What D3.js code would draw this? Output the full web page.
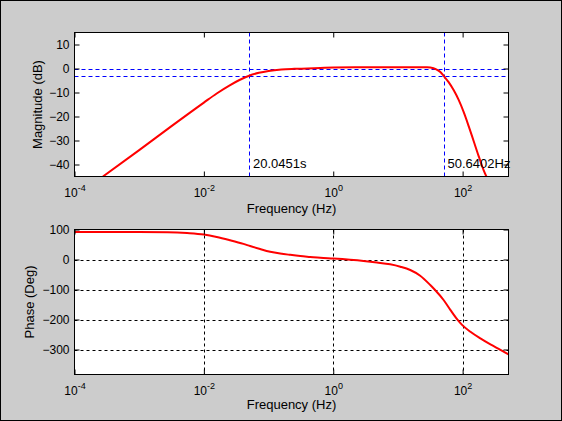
<!DOCTYPE html>
<html>
<head>
<meta charset="utf-8">
<script src="https://cdn.jsdelivr.net/npm/d3@7"></script>
<style>
  body { margin: 0; background: #cccccc; }
  svg { display: block; }
  text { font-family: "Liberation Sans", Arial, Helvetica, sans-serif; }
</style>
</head>
<body>
<script>
// magnitude response (Hz, dB)
const magFreq = [0.000275, 0.001, 0.00316, 0.01, 0.0158, 0.0251, 0.0355, 0.0501, 0.0708, 0.1, 0.158, 0.251, 0.398, 0.631, 1, 3.16, 10, 28.2, 35.5, 41.7, 45.7, 50.64, 60.8, 72.6, 86.9, 104, 124, 148, 177, 211, 253];
const magDb   = [-45, -34, -24, -14.2, -10.4, -7.0, -4.8, -3.0, -1.8, -1.0, -0.4, -0.15, 0, 0.2, 0.4, 0.5, 0.5, 0.5, 0.1, -0.8, -1.6, -3.0, -5.7, -9.0, -13.1, -18.2, -24.0, -30.2, -36.5, -42.3, -47.0];

// phase response (Hz, deg)
const phFreq = [0.0001, 0.001, 0.00275, 0.0055, 0.01, 0.0158, 0.0255, 0.0409, 0.0519, 0.0741, 0.106, 0.151, 0.216, 0.309, 0.44, 0.631, 1, 1.82, 2.94, 4.74, 7.6, 10.9, 15.5, 22.1, 31.6, 36.9, 50.8, 64.6, 82, 98, 132, 188, 269, 384, 512];
const phDeg  = [92, 92, 91, 88, 83, 75, 64, 52, 45, 35, 26, 20, 15.5, 11.5, 8.5, 5.5, 3, -1, -5, -10, -16, -24, -35, -54, -85, -100, -135, -168, -199, -218, -241, -263, -283, -301, -316];

// cutoff markers
const cutoffs = [0.04989, 50.6402];
const cutoffLabels = ["20.0451s", "50.6402Hz"];
const magLevels = [0, -3];

// ticks
const xTicks = [1e-4, 1e-2, 1, 1e2];
const xExp = ["-4", "-2", "0", "2"];
const magTicks = [10, 0, -10, -20, -30, -40];
const phTicks = [100, 0, -100, -200, -300];

const W = 562, H = 421;
const left = 74.5, right = 508.5;
const top1 = 32.5, bot1 = 176.5;
const top2 = 229.5, bot2 = 374.5;

const svg = d3.select("body").append("svg")
  .attr("width", W)
  .attr("height", H);

svg.append("rect")
  .attr("x", 0.5).attr("y", 0.5)
  .attr("width", W - 1).attr("height", H - 1)
  .attr("fill", "#cccccc")
  .attr("stroke", "#000");

const x = d3.scaleLog().domain([1e-4, 512]).range([left, right]);
const yMag = d3.scaleLinear().domain([-45, 15]).range([bot1, top1]);
const yPh = d3.scaleLinear().domain([-383.3, 100]).range([bot2, top2]);

function panel(top, bot, id) {
  const g = svg.append("g");
  g.append("rect")
    .attr("x", left).attr("y", top)
    .attr("width", right - left).attr("height", bot - top)
    .attr("fill", "#fff");
  g.append("clipPath").attr("id", id)
    .append("rect")
    .attr("x", left).attr("y", top)
    .attr("width", right - left).attr("height", bot - top);
  return g;
}

function axes(g, y, yTicks, top, bot) {
  const bx = g.append("g").attr("transform", `translate(0,${bot})`)
    .call(d3.axisBottom(x).tickValues(xTicks).tickSize(-5).tickSizeOuter(0).tickPadding(0));
  bx.selectAll(".tick text").each(function(d, i) {
    const t = d3.select(this).text(null).attr("dy", null).attr("y", 20)
      .attr("font-size", 12);
    t.append("tspan").text("10");
    t.append("tspan").attr("dy", -6).attr("font-size", 9).text(xExp[i]);
  });
  g.append("g").attr("transform", `translate(0,${top})`)
    .call(d3.axisTop(x).tickValues(xTicks).tickSize(-5).tickSizeOuter(0).tickFormat(""));
  const ly = g.append("g").attr("transform", `translate(${left},0)`)
    .call(d3.axisLeft(y).tickValues(yTicks).tickSize(-5).tickSizeOuter(0).tickPadding(5));
  ly.selectAll(".tick text").attr("font-size", 12);
  g.append("g").attr("transform", `translate(${right},0)`)
    .call(d3.axisRight(y).tickValues(yTicks).tickSize(-5).tickSizeOuter(0).tickFormat(""));
  g.selectAll(".domain").remove();
  g.selectAll(".tick line").attr("stroke", "#000");
  g.selectAll(".tick text").attr("fill", "#000").attr("font-family", null);
  g.append("rect")
    .attr("x", left).attr("y", top)
    .attr("width", right - left).attr("height", bot - top)
    .attr("fill", "none").attr("stroke", "#000");
}

// ---- magnitude
const g1 = panel(top1, bot1, "clip1");
const c1 = g1.append("g").attr("clip-path", "url(#clip1)");

c1.selectAll("line.hl").data(magLevels).enter().append("line")
  .attr("class", "hl")
  .attr("x1", left).attr("x2", right)
  .attr("y1", d => Math.round(yMag(d)) + 0.5).attr("y2", d => Math.round(yMag(d)) + 0.5)
  .attr("stroke", "#0000ff").attr("stroke-dasharray", "4,3");
c1.selectAll("line.vl").data(cutoffs).enter().append("line")
  .attr("class", "vl")
  .attr("x1", d => Math.round(x(d)) + 0.5).attr("x2", d => Math.round(x(d)) + 0.5)
  .attr("y1", top1).attr("y2", bot1)
  .attr("stroke", "#0000ff").attr("stroke-dasharray", "4,3");

c1.append("path")
  .datum(magFreq.map((f, i) => [f, magDb[i]]))
  .attr("fill", "none").attr("stroke", "#ff0000").attr("stroke-width", 2)
  .attr("d", d3.line().x(d => x(d[0])).y(d => yMag(d[1])).curve(d3.curveMonotoneX));

g1.selectAll("text.cut").data(cutoffs).enter().append("text")
  .attr("class", "cut")
  .attr("x", d => x(d) + 4).attr("y", 168)
  .attr("font-size", 13).text((d, i) => cutoffLabels[i]);

axes(g1, yMag, magTicks, top1, bot1);

// ---- phase
const g2 = panel(top2, bot2, "clip2");
const c2 = g2.append("g").attr("clip-path", "url(#clip2)");

c2.selectAll("line.gx").data(xTicks.slice(1)).enter().append("line")
  .attr("class", "gx")
  .attr("x1", d => Math.round(x(d)) + 0.5).attr("x2", d => Math.round(x(d)) + 0.5)
  .attr("y1", top2).attr("y2", bot2)
  .attr("stroke", "#000").attr("stroke-dasharray", "3,3");
c2.selectAll("line.gy").data(phTicks.slice(1)).enter().append("line")
  .attr("class", "gy")
  .attr("x1", left).attr("x2", right)
  .attr("y1", d => Math.round(yPh(d)) + 0.5).attr("y2", d => Math.round(yPh(d)) + 0.5)
  .attr("stroke", "#000").attr("stroke-dasharray", "3,3");

c2.append("path")
  .datum(phFreq.map((f, i) => [f, phDeg[i]]))
  .attr("fill", "none").attr("stroke", "#ff0000").attr("stroke-width", 2)
  .attr("d", d3.line().x(d => x(d[0])).y(d => yPh(d[1])).curve(d3.curveMonotoneX));

axes(g2, yPh, phTicks, top2, bot2);

// ---- axis titles
const cx = (left + right) / 2;
svg.append("text").attr("x", cx).attr("y", 213).attr("text-anchor", "middle")
  .attr("font-size", 13).text("Frequency (Hz)");
svg.append("text").attr("x", cx).attr("y", 409).attr("text-anchor", "middle")
  .attr("font-size", 13).text("Frequency (Hz)");
svg.append("text")
  .attr("transform", `translate(42,${(top1 + bot1) / 2}) rotate(-90)`)
  .attr("text-anchor", "middle").attr("font-size", 13).text("Magnitude (dB)");
svg.append("text")
  .attr("transform", `translate(34,${(top2 + bot2) / 2}) rotate(-90)`)
  .attr("text-anchor", "middle").attr("font-size", 13).text("Phase (Deg)");
</script>
</body>
</html>
